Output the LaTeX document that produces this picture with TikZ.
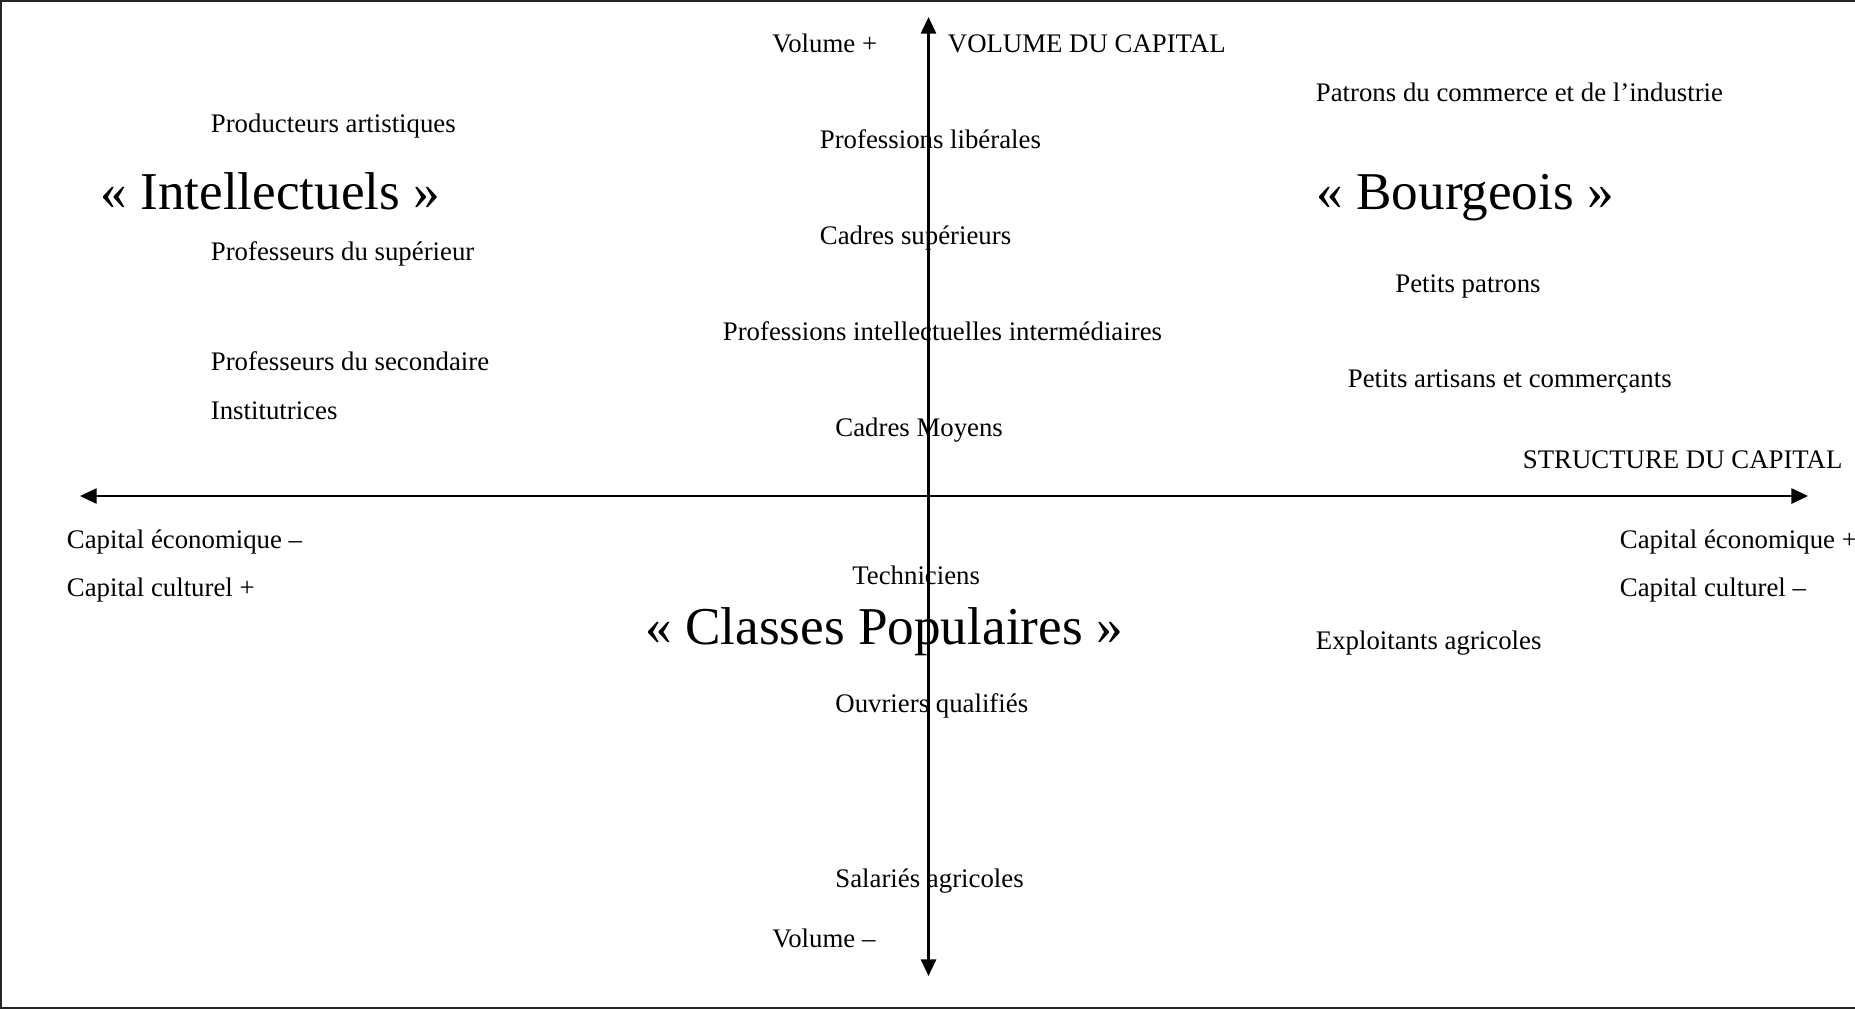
\documentclass[tikz,border=0pt]{standalone}
\usepackage{fontspec}
\setmainfont{Liberation Serif}
\usetikzlibrary{arrows.meta}
\begin{document}
\begin{tikzpicture}[x=0.5pt,y=-0.5pt,
  lbl/.style={anchor=base west,inner sep=0pt,font=\fontsize{13.4}{15}\selectfont},
  big/.style={anchor=base west,inner sep=0pt,font=\fontsize{26.6}{30}\selectfont},
  axis/.style={line width=1.35pt,{Triangle[length=8.3pt,width=7.5pt]}-{Triangle[length=8.3pt,width=7.5pt]}},
  frame/.style={line width=0.9pt,draw=black!85}]
\useasboundingbox (0,0) rectangle (1855,1009);
% frame (top, left, bottom)
\coordinate (f1) at (1855,1);
\coordinate (f2) at (1,1);
\coordinate (f3) at (1,1008);
\coordinate (f4) at (1855,1008);
\draw[frame] (f1) -- (f2) -- (f3) -- (f4);
% axes
\coordinate (xl) at (80,496);
\coordinate (xr) at (1808,496);
\coordinate (yt) at (928.5,17);
\coordinate (yb) at (928.5,976);
\draw[axis] (xl) -- (xr);
\draw[axis] (yb) -- (yt);
% axis labels
\node[lbl] (volp) at (772,52) {Volume +};
\node[lbl] (volcap) at (947.5,52) {VOLUME DU CAPITAL};
\node[lbl] (volm) at (772,947.5) {Volume –};
\node[lbl] (struct) at (1522.5,468.5) {STRUCTURE DU CAPITAL};
\node[lbl] (ecom) at (66.5,548) {Capital économique –};
\node[lbl] (culp) at (66.5,596) {Capital culturel +};
\node[lbl] (ecop) at (1619.5,548) {Capital économique +};
\node[lbl] (culm) at (1619.5,596) {Capital culturel –};
% left group
\node[lbl] (prodart) at (210.5,132.3) {Producteurs artistiques};
\node[big] (intel) at (100,209) {« Intellectuels »};
\node[lbl] (profsup) at (210.5,260.8) {Professeurs du supérieur};
\node[lbl] (profsec) at (210.5,370) {Professeurs du secondaire};
\node[lbl] (instit) at (210.5,419.3) {Institutrices};
% centre group
\node[lbl] (proflib) at (819.5,148.3) {Professions libérales};
\node[lbl] (cadsup) at (819.5,244.8) {Cadres supérieurs};
\node[lbl] (pii) at (722.5,340) {Professions intellectuelles intermédiaires};
\node[lbl] (cadmoy) at (835,436) {Cadres Moyens};
% right group
\node[lbl] (patrons) at (1315.5,101) {Patrons du commerce et de l’industrie};
\node[big] (bourg) at (1316,209) {« Bourgeois »};
\node[lbl] (petpat) at (1395,292) {Petits patrons};
\node[lbl] (petart) at (1347.5,387.5) {Petits artisans et commerçants};
% bottom group
\node[lbl] (tech) at (852,584) {Techniciens};
\node[big] (classpop) at (645,644) {« Classes Populaires »};
\node[lbl] (ouvq) at (835,712.5) {Ouvriers qualifiés};
\node[lbl] (salagr) at (835,887.5) {Salariés agricoles};
\node[lbl] (explagr) at (1315.5,649) {Exploitants agricoles};
\end{tikzpicture}
\end{document}
